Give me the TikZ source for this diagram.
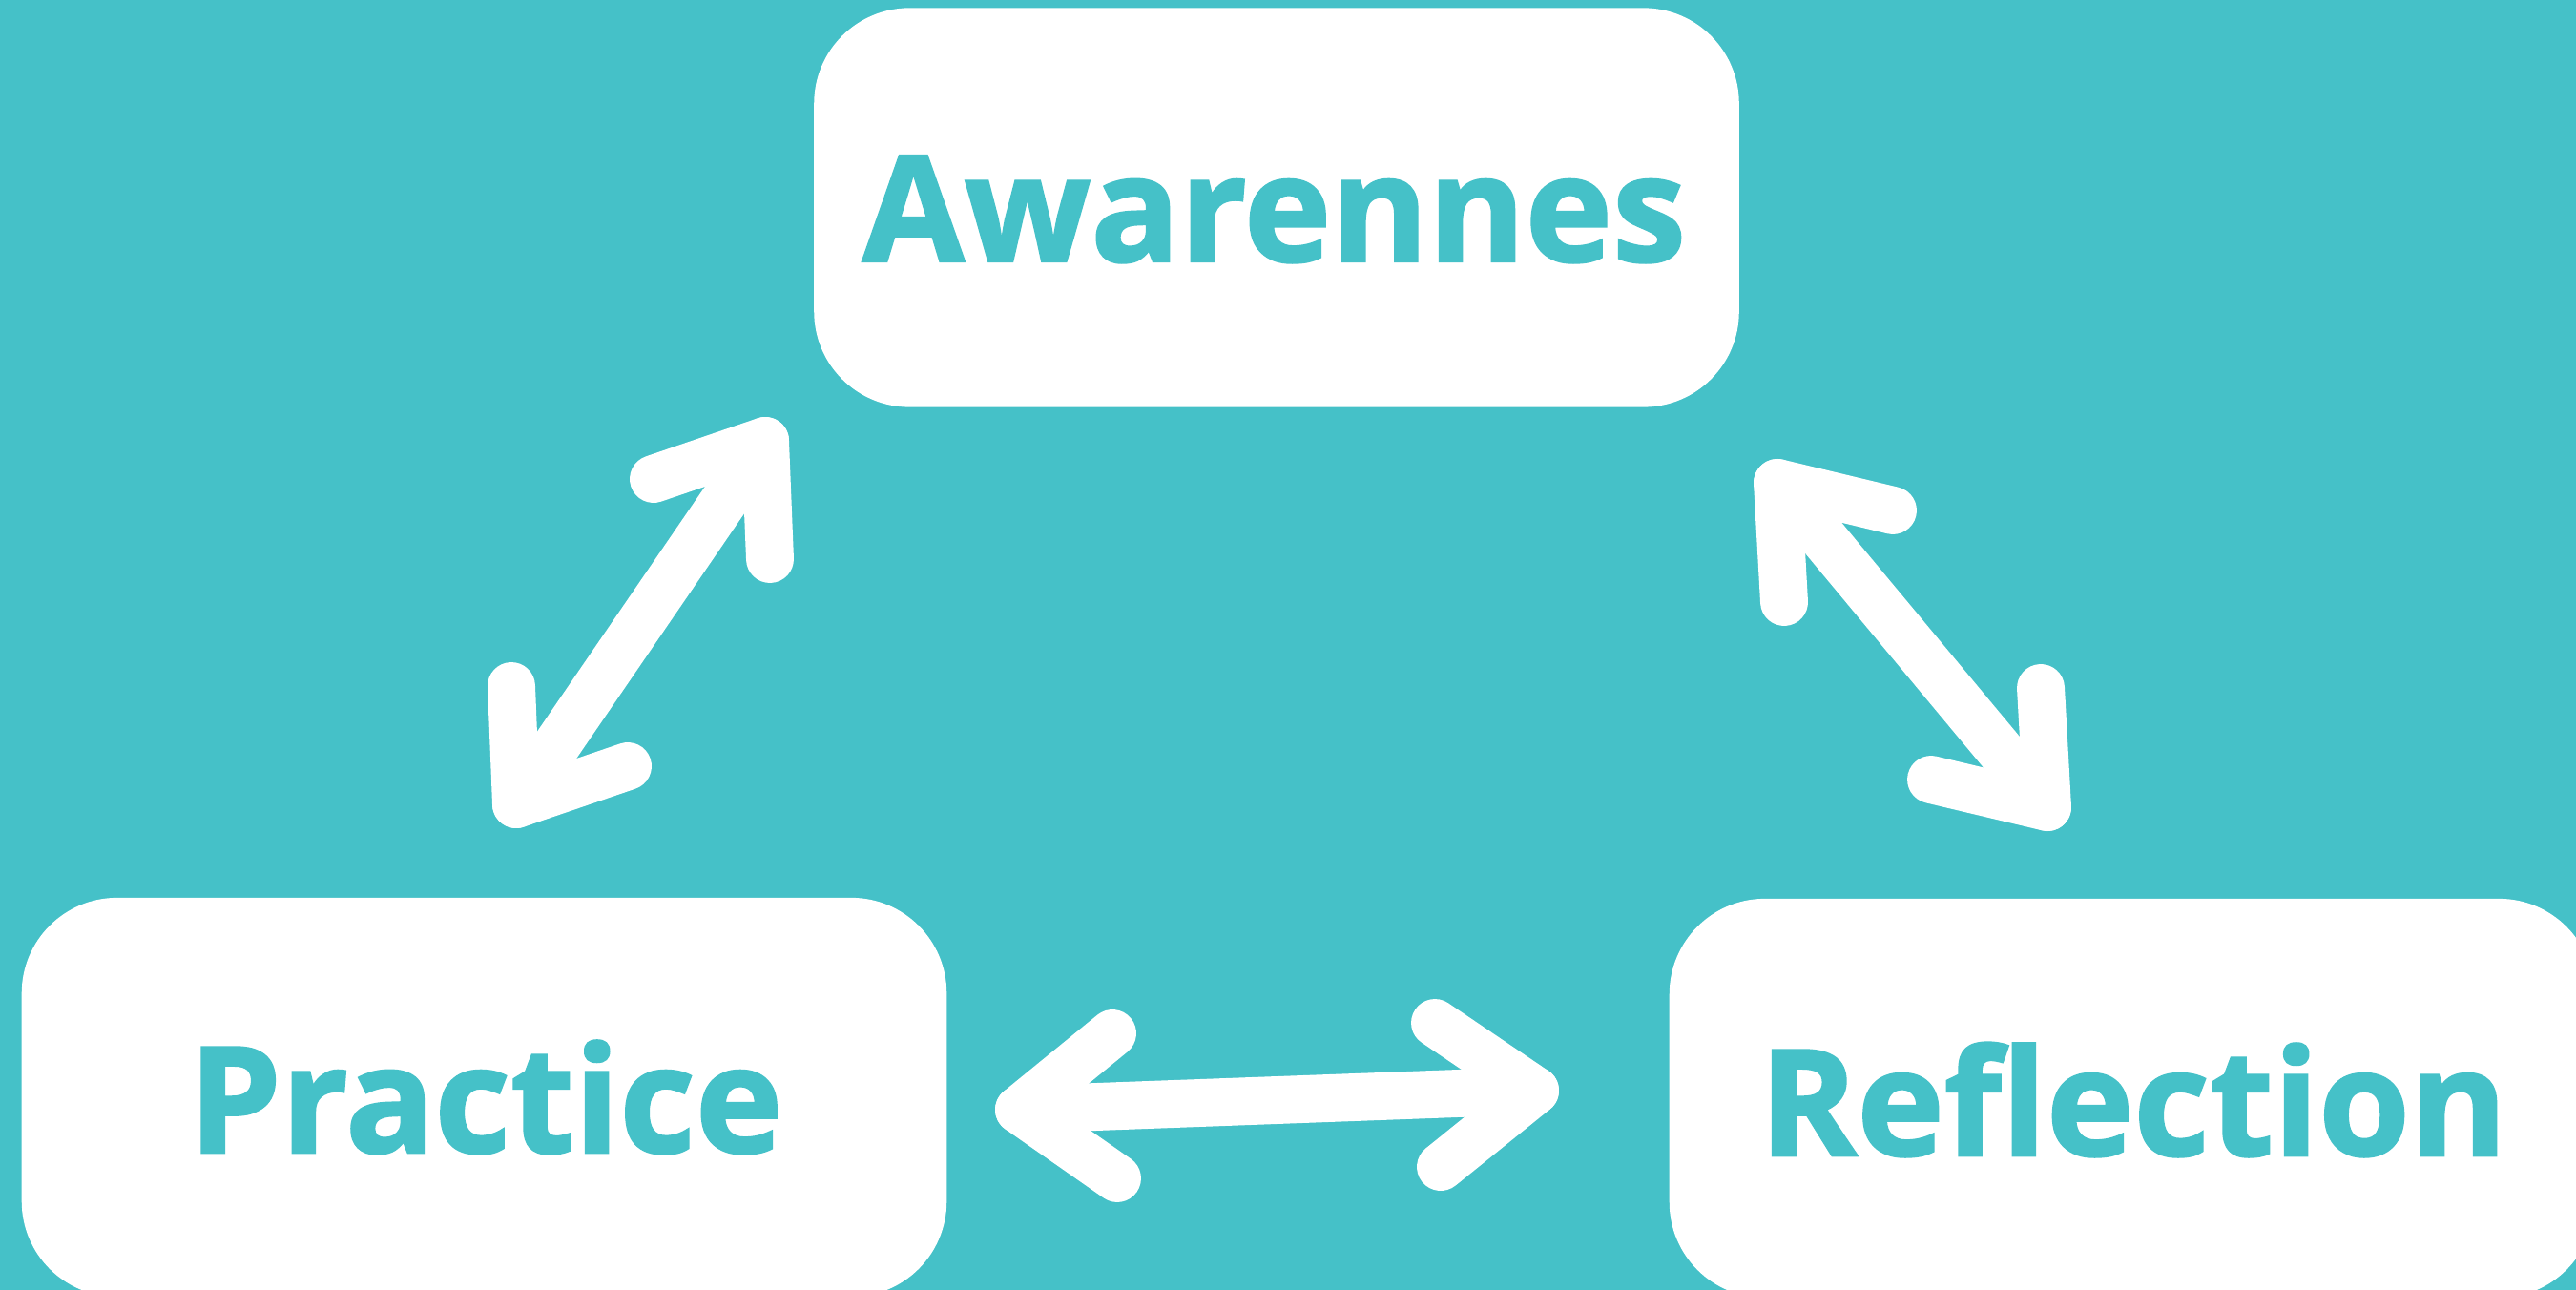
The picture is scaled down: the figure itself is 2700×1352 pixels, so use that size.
\documentclass[tikz,border=0pt]{standalone}
\usepackage{fontspec}
\setmainfont{Open Sans}[BoldFeatures={FakeBold=1.6}]
\definecolor{bgteal}{RGB}{69,193,200}
\begin{document}
\begin{tikzpicture}[x=0.01cm,y=-0.01cm,
  card/.style={fill=white, draw=none, rounded corners=1cm, minimum width=9.69cm, minimum height=4.18cm, inner sep=0pt},
  lbl/.style={text=bgteal, font=\bfseries\fontsize{44}{44}\selectfont, inner sep=0pt, anchor=base},
  conn/.style={draw=white, line width=14.2pt, line cap=round, line join=round}]
\useasboundingbox (0,0) rectangle (2700,1352);
\fill[bgteal] (0,0) rectangle (2700,1352);
\clip (0,0) rectangle (2700,1352);
% cards
\node[card] (aw) at (1338,217.5) {};
\node[card] (pr) at (507.5,1150) {};
\node[card] (re) at (2234.5,1151) {};
% labels
\node[lbl] (awt) at (1335.5,274) {Awarennes};
\node[lbl] (prt) at (509,1208) {Practice};
\node[lbl] (ret) at (2236,1211) {Reflection};
% arrow Practice <-> Awareness
\coordinate (a1l) at (541,843);
\coordinate (a1la) at (536,719);
\coordinate (a1lb) at (658,803);
\coordinate (a1u) at (802,462);
\coordinate (a1ua) at (685,502);
\coordinate (a1ub) at (807,586);
\draw[conn] (a1l) -- (a1u);
\draw[conn] (a1la) -- (a1l) -- (a1lb);
\draw[conn] (a1ua) -- (a1u) -- (a1ub);
% arrow Awareness <-> Reflection
\coordinate (a2u) at (1863,506);
\coordinate (a2ua) at (1870,631);
\coordinate (a2ub) at (1984,535);
\coordinate (a2l) at (2146,846);
\coordinate (a2la) at (2139,721);
\coordinate (a2lb) at (2024,817);
\draw[conn] (a2u) -- (a2l);
\draw[conn] (a2ua) -- (a2u) -- (a2ub);
\draw[conn] (a2la) -- (a2l) -- (a2lb);
% arrow Practice <-> Reflection
\coordinate (a3l) at (1068,1163);
\coordinate (a3la) at (1166,1083);
\coordinate (a3lb) at (1171,1235);
\coordinate (a3r) at (1609,1143);
\coordinate (a3ra) at (1504,1072);
\coordinate (a3rb) at (1510,1223);
\draw[conn] (a3l) -- (a3r);
\draw[conn] (a3la) -- (a3l) -- (a3lb);
\draw[conn] (a3ra) -- (a3r) -- (a3rb);
\end{tikzpicture}
\end{document}
